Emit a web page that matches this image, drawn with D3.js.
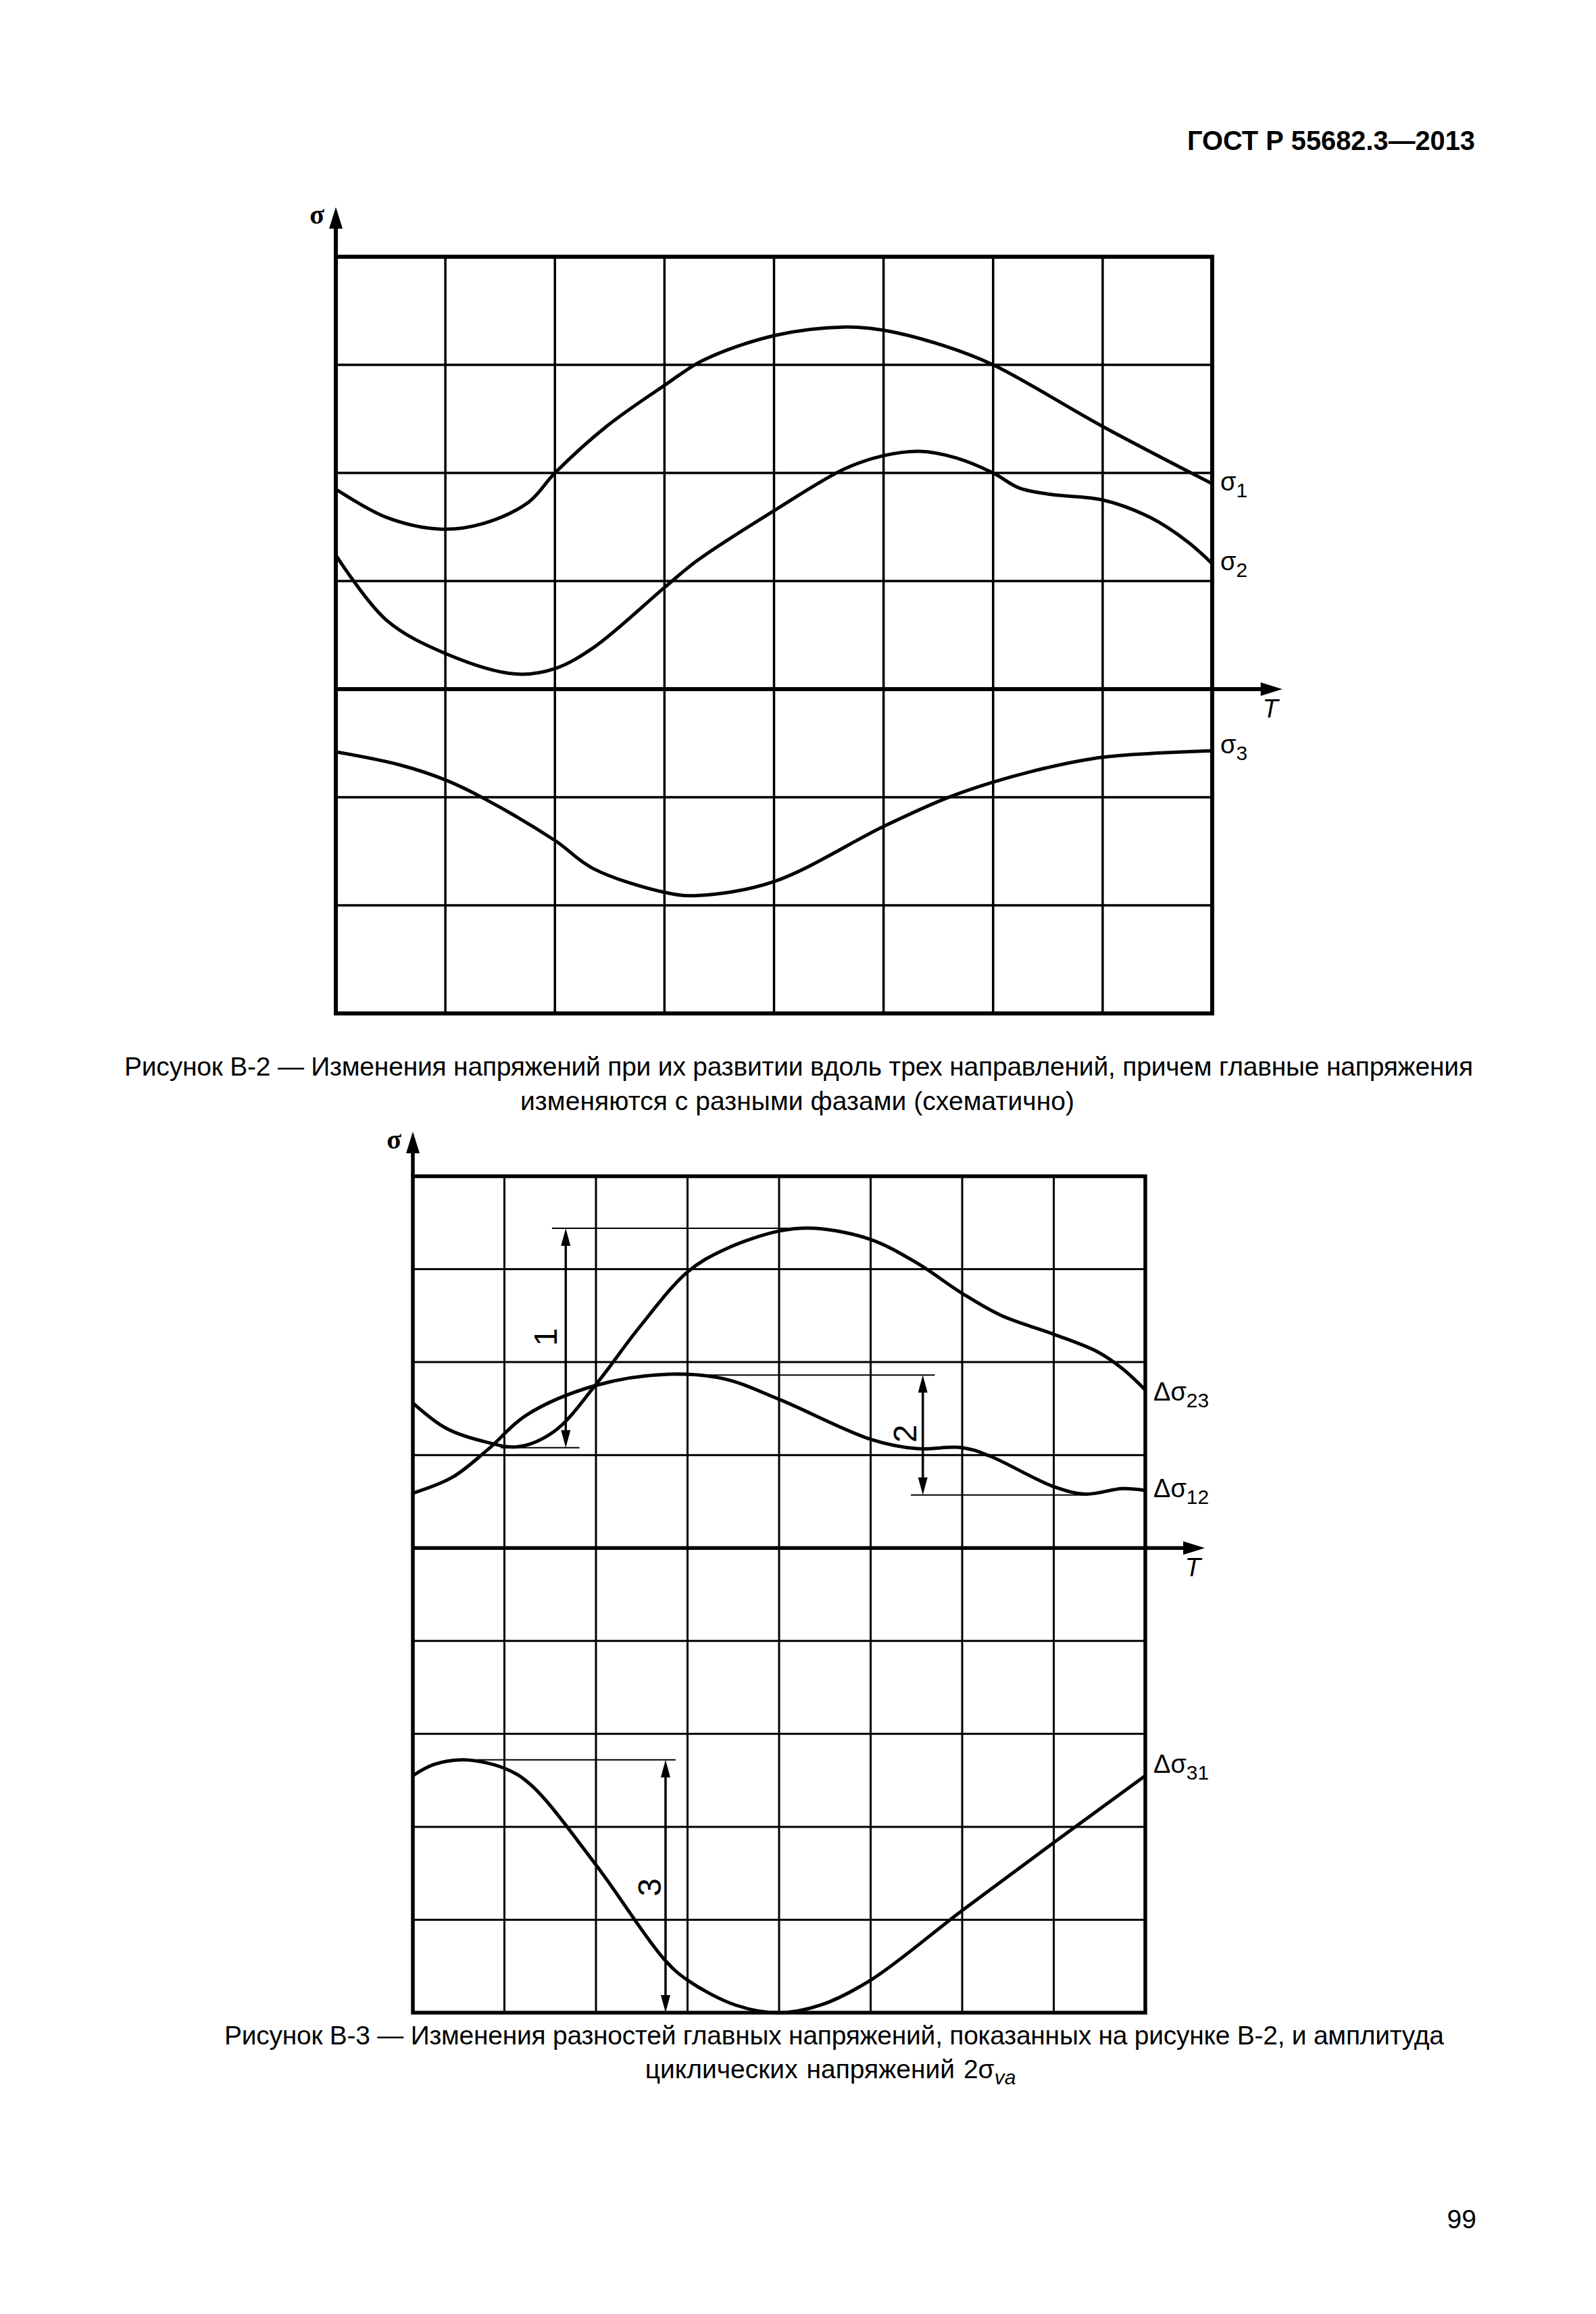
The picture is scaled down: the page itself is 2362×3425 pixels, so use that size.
<!DOCTYPE html>
<html>
<head>
<meta charset="utf-8">
<script src="https://cdn.jsdelivr.net/npm/d3@7"></script>
<style>
  body { margin: 0; background: #fff; }
  svg { display: block; }
  text { font-family: "Liberation Sans", Arial, sans-serif; fill: #000; }
</style>
</head>
<body>
<div class="page"></div>
<script>
// grid units: x 0..8 columns, y rows (T axis = 0)
const sigma1 = [[0,1.85],[0.46,1.59],[0.96,1.48],[1.34,1.53],[1.76,1.73],[2,2.0],[2.47,2.43],[3,2.81],[3.35,3.04],[4,3.27],[4.65,3.35],[5,3.32],[5.54,3.18],[6,3.0],[7,2.43],[8,1.9]]
const sigma2 = [[0,1.24],[0.46,0.64],[1,0.33],[1.64,0.14],[2,0.19],[2.36,0.39],[3,0.94],[3.3,1.19],[4,1.65],[4.65,2.04],[5,2.16],[5.33,2.2],[5.66,2.14],[6,2.0],[6.24,1.86],[6.54,1.8],[7,1.75],[7.43,1.59],[7.78,1.36],[8,1.16]]
const sigma3 = [[0,-0.58],[0.58,-0.7],[1,-0.84],[1.35,-1.01],[2,-1.4],[2.35,-1.66],[3,-1.88],[3.3,-1.91],[4,-1.78],[5,-1.27],[5.57,-1.01],[6,-0.86],[6.48,-0.73],[7,-0.63],[8,-0.57]]

const dSigma23 = [[0,1.56],[0.36,1.29],[0.76,1.15],[1.15,1.09],[1.55,1.26],[2,1.76],[2.47,2.37],[3,2.97],[3.4,3.21],[4,3.41],[4.39,3.44],[5,3.32],[5.5,3.07],[6,2.74],[6.43,2.5],[7,2.3],[7.48,2.11],[7.75,1.93],[8,1.7]]
const dSigma12 = [[0,0.59],[0.43,0.76],[0.82,1.06],[1.24,1.43],[2,1.75],[2.8,1.87],[3.4,1.82],[4,1.6],[5,1.17],[5.5,1.07],[6,1.08],[6.3,0.99],[7,0.66],[7.35,0.58],[7.75,0.64],[8,0.62]]
const dSigma31 = [[0,-2.45],[0.23,-2.33],[0.56,-2.28],[1,-2.37],[1.29,-2.55],[2,-3.41],[2.74,-4.42],[3,-4.65],[3.53,-4.92],[4,-5.0],[4.45,-4.92],[5,-4.65],[6,-3.9],[7,-3.17],[8,-2.45]]

// dimension marks on Fig. B-3: arrow at x between y0 and y1, extension lines
const dims = [
  {label: '1', x: 1.67, y0: 1.08, y1: 3.44, top: [1.52, 4.39], bot: [0.96, 1.82], lx: 1.45, ly: 2.27},
  {label: '2', x: 5.57, y0: 0.57, y1: 1.86, top: [2.87, 5.7], bot: [5.44, 7.35], lx: 5.37, ly: 1.23},
  {label: '3', x: 2.76, y0: -5.0, y1: -2.28, top: [0.7, 2.87], bot: null, lx: 2.58, ly: -3.65}
]

const W = 2362, H = 3425
const svg = d3.select('.page').append('svg')
  .attr('width', W).attr('height', H)
  .attr('viewBox', `0 0 ${W} ${H}`)

svg.append('text')
  .attr('x', 2183).attr('y', 222)
  .attr('text-anchor', 'end')
  .attr('font-size', 41).attr('font-weight', 'bold')
  .attr('textLength', 426).attr('lengthAdjust', 'spacingAndGlyphs')
  .text('ГОСТ Р 55682.3—2013')

const line = (x, y) => d3.line().x(d => x(d[0])).y(d => y(d[1])).curve(d3.curveCatmullRom.alpha(0.5))

function drawChart(cfg) {
  const g = svg.append('g')
  const x = d3.scaleLinear().domain([0, 8]).range([cfg.left, cfg.right])
  const y = d3.scaleLinear().domain(cfg.yDomain).range([cfg.bottom, cfg.top])

  // grid
  g.selectAll('.vx').data(d3.range(1, 8)).enter().append('line')
    .attr('x1', d => x(d)).attr('x2', d => x(d))
    .attr('y1', y(cfg.yDomain[0])).attr('y2', y(cfg.yDomain[1]))
    .attr('stroke', '#000').attr('stroke-width', cfg.gridW)
  g.selectAll('.hy').data(d3.range(cfg.yDomain[0] + 1, cfg.yDomain[1]).filter(d => d !== 0)).enter().append('line')
    .attr('x1', x(0)).attr('x2', x(8))
    .attr('y1', d => y(d)).attr('y2', d => y(d))
    .attr('stroke', '#000').attr('stroke-width', cfg.gridW)

  g.append('rect')
    .attr('x', x(0)).attr('y', y(cfg.yDomain[1]))
    .attr('width', x(8) - x(0)).attr('height', y(cfg.yDomain[0]) - y(cfg.yDomain[1]))
    .attr('fill', 'none').attr('stroke', '#000').attr('stroke-width', cfg.frameW)

  // axes with arrows
  const yTip = y(cfg.yDomain[1] + cfg.yExt), xTip = x(8 + cfg.xExt)
  g.append('line').attr('x1', x(0)).attr('x2', x(0))
    .attr('y1', y(cfg.yDomain[1])).attr('y2', yTip + 20)
    .attr('stroke', '#000').attr('stroke-width', cfg.frameW)
  g.append('path')
    .attr('d', `M${x(0)},${yTip} l-10,32 l20,0 z`)
  g.append('line').attr('x1', x(8)).attr('x2', xTip - 20)
    .attr('y1', y(0)).attr('y2', y(0))
    .attr('stroke', '#000').attr('stroke-width', cfg.frameW)
  g.append('line').attr('x1', x(0)).attr('x2', x(8))
    .attr('y1', y(0)).attr('y2', y(0))
    .attr('stroke', '#000').attr('stroke-width', cfg.frameW)
  g.append('path')
    .attr('d', `M${xTip},${y(0)} l-32,-10 l0,20 z`)

  g.append('text').attr('x', x(0) - 17).attr('y', yTip + 25)
    .attr('text-anchor', 'end').attr('font-size', 40)
    .style('font-family', '"Liberation Serif", serif').attr('font-weight', 'bold')
    .text('σ')
  g.append('text').attr('x', xTip - 6).attr('y', y(0) + 42)
    .attr('text-anchor', 'end').attr('font-size', 38).attr('font-style', 'italic')
    .text('T')

  // curves
  cfg.series.forEach(s => {
    g.append('path').datum(s.data)
      .attr('d', line(x, y))
      .attr('fill', 'none').attr('stroke', '#000').attr('stroke-width', 5)
      .attr('stroke-linejoin', 'round')
    const last = s.data[s.data.length - 1]
    const t = g.append('text')
      .attr('x', x(8) + 12).attr('y', y(last[1]) + s.dy)
      .attr('font-size', 38)
    t.append('tspan').text(s.pre + 'σ')
    t.append('tspan').attr('dy', 10).attr('font-size', 30).text(s.sub)
  })
  return {g, x, y}
}

drawChart({
  left: 497, right: 1794, top: 380, bottom: 1500, yDomain: [-3, 4],
  gridW: 3.5, frameW: 6, yExt: 0.46, xExt: 0.64,
  series: [
    {data: sigma1, pre: '', sub: '1', dy: 10},
    {data: sigma2, pre: '', sub: '2', dy: 10},
    {data: sigma3, pre: '', sub: '3', dy: 4}
  ]
})

const c2 = drawChart({
  left: 611, right: 1695, top: 1741, bottom: 2979, yDomain: [-5, 4],
  gridW: 3, frameW: 5.5, yExt: 0.48, xExt: 0.65,
  series: [
    {data: dSigma23, pre: 'Δ', sub: '23', dy: 16},
    {data: dSigma12, pre: 'Δ', sub: '12', dy: 10},
    {data: dSigma31, pre: 'Δ', sub: '31', dy: -4}
  ]
})

// dimension arrows
const {g: g2, x: x2, y: y2} = c2
dims.forEach(d => {
  g2.append('line').attr('x1', x2(d.top[0])).attr('x2', x2(d.top[1]))
    .attr('y1', y2(d.y1)).attr('y2', y2(d.y1))
    .attr('stroke', '#000').attr('stroke-width', 2)
  if (d.bot) g2.append('line').attr('x1', x2(d.bot[0])).attr('x2', x2(d.bot[1]))
    .attr('y1', y2(d.y0)).attr('y2', y2(d.y0))
    .attr('stroke', '#000').attr('stroke-width', 2)
  const xa = x2(d.x), ya = y2(d.y1), yb = y2(d.y0)
  g2.append('line').attr('x1', xa).attr('x2', xa).attr('y1', ya + 20).attr('y2', yb - 20)
    .attr('stroke', '#000').attr('stroke-width', 3.5)
  g2.append('path').attr('d', `M${xa},${ya} l-7,26 l14,0 z M${xa},${yb} l-7,-26 l14,0 z`)
  g2.append('text')
    .attr('transform', `translate(${x2(d.lx)},${y2(d.ly)}) rotate(-90)`)
    .attr('text-anchor', 'middle').attr('dy', 17)
    .attr('font-size', 48)
    .text(d.label)
})

// captions
const caption = (txt, x0, x1, yb) => svg.append('text')
  .attr('x', x0).attr('y', yb).attr('font-size', 39)
  .attr('textLength', x1 - x0).attr('lengthAdjust', 'spacing')
  .text(txt)

caption('Рисунок В-2 — Изменения напряжений при их развитии вдоль трех направлений, причем главные напряжения', 184, 2180, 1592)
caption('изменяются с разными фазами (схематично)', 770, 1590, 1643)
caption('Рисунок В-3 — Изменения разностей главных напряжений, показанных на рисунке В-2, и амплитуда', 332, 2137, 3026)

const c2l = svg.append('text').attr('x', 1229).attr('y', 3076).attr('font-size', 39)
  .attr('text-anchor', 'middle').attr('word-spacing', 2)
c2l.append('tspan').text('циклических напряжений 2σ')
c2l.append('tspan').attr('dy', 9).attr('font-size', 30).attr('font-style', 'italic').text('va')

svg.append('text').attr('x', 2185).attr('y', 3298)
  .attr('text-anchor', 'end').attr('font-size', 39)
  .text('99')
</script>
</body>
</html>
